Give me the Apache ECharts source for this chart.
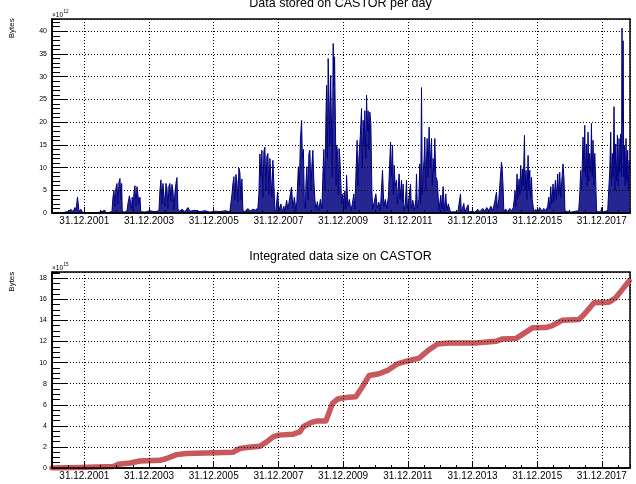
<!DOCTYPE html>
<html>
<head>
<meta charset="utf-8">
<script src="https://cdn.jsdelivr.net/npm/echarts@6/dist/echarts.min.js"></script>
<style>
html, body { margin: 0; padding: 0; background: #fff; }
#chart { width: 636px; height: 484px; }
</style>
</head>
<body>
<div id="chart"></div>
<script>
// x = decimal year, y = bytes per day in units of 10^12
const perDay = [
  [2001.000,0],[2001.247,0],[2001.494,0.3],[2001.587,0.8],[2001.649,0.3],[2001.711,1.2],[2001.742,0.5],[2001.788,3.5],[2001.834,0.4],[2001.896,0.8],[2001.958,0],[2002.329,0],[2002.483,0.2],[2002.638,0.6],[2002.669,0],[2002.854,0.3],
  [2002.885,3.5],[2002.916,5.0],[2002.947,1.5],[2002.978,5.5],[2003.009,6.5],[2003.040,2.0],[2003.070,6.8],[2003.101,7.6],[2003.132,3.0],[2003.154,6.5],[2003.172,0.3],[2003.256,0.2],[2003.318,0.5],
  [2003.358,2.5],[2003.395,3.8],[2003.426,4.0],[2003.457,1.0],[2003.481,3.5],[2003.503,0.5],[2003.534,4.5],[2003.565,6.0],[2003.596,1.5],[2003.627,5.8],[2003.658,6.0],[2003.689,2.0],[2003.719,3.5],[2003.744,0.3],[2003.874,0.2],[2004.028,0.5],[2004.183,0.3],
  [2004.307,0.5],[2004.338,5.0],[2004.368,7.3],[2004.399,2.0],[2004.430,6.5],[2004.461,6.8],[2004.492,1.5],[2004.523,6.5],[2004.554,5.5],[2004.585,1.0],[2004.616,6.0],[2004.646,6.5],[2004.677,2.5],[2004.708,6.3],[2004.739,5.0],[2004.770,0.8],[2004.801,4.5],[2004.832,6.5],[2004.863,7.8],[2004.894,1.0],[2004.925,0.3],
  [2005.017,0.8],[2005.110,0.3],[2005.203,1.2],[2005.264,0.4],[2005.419,0.6],[2005.574,0.3],[2005.728,0.5],[2005.883,0.2],[2006.037,0.4],[2006.192,0.3],[2006.346,0.5],[2006.501,0.3],
  [2006.562,4.0],[2006.593,6.4],[2006.624,8.0],[2006.655,3.0],[2006.686,8.5],[2006.717,7.0],[2006.748,2.5],[2006.779,9.9],[2006.810,8.8],[2006.840,3.0],[2006.871,7.5],[2006.902,0.5],[2006.964,0.3],[2007.057,1.0],[2007.119,0.4],[2007.211,0.8],[2007.304,0.6],[2007.366,1.2],
  [2007.397,4.2],[2007.428,13.0],[2007.459,8.0],[2007.489,13.8],[2007.520,3.5],[2007.551,13.5],[2007.582,14.5],[2007.613,5.0],[2007.644,12.5],[2007.675,13.1],[2007.706,4.0],[2007.737,12.0],[2007.768,11.8],[2007.798,3.5],[2007.829,11.6],[2007.860,11.2],[2007.891,0.8],[2007.922,0.3],[2007.975,4.6],
  [2008.015,0.5],[2008.077,2.0],[2008.123,0.3],[2008.169,1.5],[2008.200,0.2],[2008.253,2.8],[2008.293,0.8],[2008.355,3.5],[2008.407,5.7],[2008.447,1.0],[2008.494,3.5],[2008.540,0.5],[2008.571,2.5],
  [2008.617,10.2],[2008.648,6.0],[2008.679,16.0],[2008.716,20.4],[2008.741,12.0],[2008.772,14.0],[2008.803,2.0],[2008.834,1.0],
  [2008.849,6.0],[2008.880,10.2],[2008.911,3.0],[2008.942,13.0],[2008.973,13.8],[2009.004,5.0],[2009.035,10.5],[2009.065,13.8],[2009.096,7.0],[2009.127,3.0],[2009.158,0.8],[2009.204,2.5],[2009.251,0.5],[2009.297,3.0],[2009.344,1.0],
  [2009.374,8.0],[2009.405,14.0],[2009.436,5.0],[2009.467,20.0],[2009.489,28.1],[2009.514,12.0],[2009.538,34.0],[2009.566,25.0],[2009.591,15.0],[2009.616,30.3],[2009.640,20.0],[2009.665,8.0],[2009.693,37.3],[2009.717,28.0],[2009.736,34.4],[2009.761,20.4],[2009.785,6.0],[2009.798,14.9],[2009.829,13.5],[2009.853,4.0],[2009.875,14.2],[2009.900,12.0],[2009.931,11.6],[2009.955,2.0],
  [2009.992,4.2],[2010.023,1.0],[2010.054,4.9],[2010.085,0.8],[2010.107,8.3],[2010.147,1.5],[2010.193,3.0],[2010.240,0.5],[2010.286,2.0],[2010.332,4.2],[2010.363,0.8],
  [2010.394,8.0],[2010.434,16.0],[2010.456,6.0],[2010.496,13.1],[2010.533,17.0],[2010.570,23.0],[2010.595,10.0],[2010.620,20.4],[2010.648,15.0],[2010.672,22.5],[2010.703,12.0],[2010.725,25.9],[2010.750,18.0],[2010.774,22.5],[2010.802,14.0],[2010.827,22.2],[2010.858,19.7],[2010.889,5.0],[2010.913,0.8],
  [2010.950,2.0],[2011.012,4.2],[2011.059,1.0],[2011.105,2.4],[2011.151,0.5],[2011.219,9.4],[2011.259,1.5],[2011.306,3.0],[2011.352,1.0],[2011.399,3.5],
  [2011.429,9.0],[2011.467,15.6],[2011.491,8.0],[2011.528,14.9],[2011.553,4.0],[2011.578,10.5],[2011.609,6.0],[2011.652,7.2],[2011.677,2.0],[2011.732,8.6],[2011.763,3.0],[2011.806,7.2],[2011.831,2.5],[2011.856,6.4],[2011.884,0.5],
  [2011.924,2.0],[2011.961,7.2],[2011.986,1.0],[2012.032,3.0],[2012.085,6.4],[2012.109,1.0],[2012.156,2.8],[2012.202,0.5],[2012.248,3.0],[2012.270,8.6],[2012.295,1.0],[2012.341,3.0],[2012.372,10.8],[2012.397,2.0],[2012.424,27.6],[2012.449,4.0],[2012.474,8.6],
  [2012.505,12.0],[2012.526,16.7],[2012.557,5.0],[2012.598,16.4],[2012.628,8.0],[2012.659,18.9],[2012.690,10.0],[2012.734,16.4],[2012.758,6.0],[2012.783,12.0],[2012.811,9.0],[2012.835,16.4],[2012.866,8.0],[2012.907,7.2],[2012.937,3.9],[2012.959,0.5],
  [2013.021,3.9],[2013.052,0.8],[2013.092,5.8],[2013.129,0.5],[2013.175,4.2],[2013.206,0.5],[2013.253,2.0],[2013.299,0.6],[2013.361,0.2],[2013.454,0.3],[2013.546,0.1],[2013.630,4.2],[2013.654,0.2],[2013.732,2.1],[2013.763,0.2],[2013.865,1.8],[2013.886,0.2],[2013.979,0.4],
  [2014.072,0.2],[2014.164,0.8],[2014.226,0.3],[2014.319,1.0],[2014.381,0.4],[2014.442,1.2],[2014.504,0.5],[2014.566,1.5],[2014.628,0.6],[2014.690,2.5],[2014.742,4.6],[2014.767,1.0],[2014.813,3.0],[2014.844,6.0],[2014.897,11.2],[2014.915,10.2],[2014.946,5.8],[2014.968,0.5],
  [2015.030,0.8],[2015.091,0.3],[2015.153,1.0],[2015.215,0.5],[2015.261,1.2],
  [2015.292,3.0],[2015.317,4.9],[2015.339,1.5],[2015.379,8.6],[2015.400,3.0],[2015.441,7.5],[2015.462,4.0],[2015.493,10.5],[2015.524,5.0],[2015.546,9.7],[2015.570,6.0],[2015.608,17.1],[2015.626,5.0],[2015.657,9.4],[2015.685,3.0],[2015.719,12.7],[2015.740,5.0],[2015.771,9.4],[2015.796,3.5],[2015.824,7.9],[2015.848,3.0],[2015.873,2.8],[2015.895,0.3],
  [2015.957,0.8],[2016.018,0.3],[2016.080,1.2],[2016.142,0.4],[2016.204,1.0],[2016.266,0.5],[2016.327,1.5],
  [2016.358,3.5],[2016.389,1.0],[2016.420,5.8],[2016.451,2.0],[2016.491,6.4],[2016.513,2.5],[2016.565,7.2],[2016.590,3.0],[2016.636,8.6],[2016.661,4.0],[2016.698,9.0],[2016.729,3.5],[2016.760,7.0],[2016.800,10.8],[2016.831,7.2],[2016.859,0.5],
  [2016.945,0.3],[2017.069,0.2],[2017.193,0.4],[2017.285,0.5],
  [2017.316,4.0],[2017.347,9.4],[2017.372,5.0],[2017.418,16.7],[2017.446,9.0],[2017.471,19.3],[2017.495,8.0],[2017.523,15.2],[2017.548,6.0],[2017.573,17.8],[2017.600,7.0],[2017.625,13.1],[2017.656,9.0],[2017.678,19.7],[2017.703,8.0],[2017.727,16.0],[2017.755,6.0],[2017.780,13.1],[2017.811,7.2],[2017.835,0.5],
  [2017.903,0.3],[2017.965,0.2],[2017.996,1.2],[2018.027,0.2],[2018.120,0.4],[2018.182,0.6],
  [2018.212,5.0],[2018.243,9.0],[2018.274,17.8],[2018.299,6.0],[2018.327,13.1],[2018.352,8.0],[2018.376,23.4],[2018.404,5.0],[2018.429,15.2],[2018.453,7.0],[2018.481,17.1],[2018.506,6.0],[2018.531,16.4],[2018.552,9.0],[2018.583,17.4],[2018.608,8.0],
  [2018.623,40.7],[2018.642,20.0],[2018.657,37.9],[2018.676,8.0],[2018.698,14.9],[2018.722,6.0],[2018.747,16.4],[2018.769,7.0],[2018.799,13.8],[2018.821,5.0],[2018.840,11.6],[2018.861,9.4]
];

// x = decimal year, y = integrated size in units of 10^15 bytes
const integrated = [
  [2001.000,0],[2001.865,0.05],[2002.894,0.15],[2003.049,0.35],[2003.410,0.48],[2003.719,0.67],[2004.337,0.73],[2004.544,0.9],[2004.853,1.27],[2005.163,1.37],
  [2006.603,1.5],[2006.810,1.85],[2007.017,1.94],[2007.428,2.07],[2007.635,2.48],[2007.839,2.96],[2007.993,3.12],[2008.457,3.21],[2008.664,3.43],[2008.766,3.91],
  [2009.025,4.33],[2009.180,4.45],[2009.467,4.45],[2009.674,6.14],[2009.829,6.55],[2010.085,6.68],[2010.394,6.77],[2010.601,7.73],[2010.805,8.78],[2011.114,8.94],
  [2011.374,9.26],[2011.683,9.89],[2011.939,10.11],[2012.350,10.43],[2012.659,11.23],[2012.919,11.77],[2013.277,11.86],[2014.102,11.86],[2014.720,12.02],[2014.928,12.25],
  [2015.339,12.28],[2015.855,13.3],[2016.266,13.33],[2016.473,13.52],[2016.782,14.03],[2017.295,14.1],[2017.449,14.57],[2017.758,15.68],[2018.222,15.74],[2018.429,16.16],
  [2018.636,16.95],[2018.840,17.75]
];

// tick positions (start of year) and the labels shown for them
const yearTicks = [2002, 2004, 2006, 2008, 2010, 2012, 2014, 2016, 2018];
const yearTickLabels = ['31.12.2001', '31.12.2003', '31.12.2005', '31.12.2007', '31.12.2009',
                        '31.12.2011', '31.12.2013', '31.12.2015', '31.12.2017'];

const FONT = '"Liberation Sans", Arial, Helvetica, sans-serif';
const X_MIN = 2001.0, X_MAX = 2018.87;
const dotted = { color: '#000', width: 1, type: [1, 2] };

// major axis (labels, grid) + a bare axis only for the half-year minor ticks
const makeXAxes = (grid) => [
    {
        type: 'value', gridIndex: grid, position: 'bottom',
        min: X_MIN, max: X_MAX, splitNumber: 9, z: 5,
        axisLine: { show: true, lineStyle: { color: '#000', width: 1.5 } },
        axisTick: { show: true, inside: true, length: 6, lineStyle: { color: '#000' } },
        axisLabel: {
            margin: 3, fontSize: 10, color: '#000', fontFamily: FONT,
            showMinLabel: false, showMaxLabel: false,
            formatter: (v) => {
                const i = yearTicks.indexOf(Math.round(v * 1000) / 1000);
                return i < 0 ? '' : yearTickLabels[i];
            }
        },
        splitLine: { show: true, lineStyle: dotted }
    },
    {
        type: 'value', gridIndex: grid, position: 'bottom',
        min: X_MIN, max: X_MAX, interval: 0.5, z: 5,
        axisLine: { show: false },
        axisTick: { show: true, inside: true, length: 3, lineStyle: { color: '#000' } },
        axisLabel: { show: false },
        splitLine: { show: false }
    }
];

const makeYAxes = (grid, max, major, minor) => [
    {
        type: 'value', gridIndex: grid, position: 'left',
        min: 0, max: max, interval: major, z: 5,
        axisLine: { show: true, lineStyle: { color: '#000', width: 1.5 } },
        axisTick: { show: true, inside: true, length: 16, lineStyle: { color: '#000' } },
        axisLabel: { margin: 5, fontSize: 7, color: '#000', fontFamily: FONT, showMaxLabel: false },
        splitLine: { show: true, lineStyle: dotted }
    },
    {
        type: 'value', gridIndex: grid, position: 'left',
        min: 0, max: max, interval: minor, z: 5,
        axisLine: { show: false },
        axisTick: { show: true, inside: true, length: 8, lineStyle: { color: '#000' } },
        axisLabel: { show: false },
        splitLine: { show: false }
    }
];

const txt = (x, y, text, size, extra) => Object.assign({
    type: 'text', x: x, y: y, z: 100,
    style: {
        text: text, font: size + 'px ' + FONT, fill: '#000',
        align: 'center', verticalAlign: 'middle',
        textAlign: 'center', textVerticalAlign: 'middle'
    }
}, extra || {});

const leftTxt = (x, y, text, size) => ({
    type: 'text', x: x, y: y, z: 100,
    style: {
        text: text, font: size + 'px ' + FONT, fill: '#000',
        align: 'left', verticalAlign: 'middle',
        textAlign: 'left', textVerticalAlign: 'middle'
    }
});

const option = {
    animation: false,
    backgroundColor: '#fff',
    grid: [
        { left: 52, right: 6, top: 19, bottom: 271, show: true, borderColor: '#000', borderWidth: 1.5, backgroundColor: 'transparent' },
        { left: 52, right: 6, top: 272, bottom: 16, show: true, borderColor: '#000', borderWidth: 1.5, backgroundColor: 'transparent' }
    ],
    xAxis: [...makeXAxes(0), ...makeXAxes(1)],
    yAxis: [...makeYAxes(0, 42.7, 5, 1), ...makeYAxes(1, 18.6, 2, 0.5)],
    series: [
        {
            name: 'Data stored on CASTOR per day',
            type: 'line', xAxisIndex: 0, yAxisIndex: 0,
            data: perDay, symbol: 'none', showSymbol: false,
            lineStyle: { color: '#000080', width: 1 },
            areaStyle: { color: '#000080', opacity: 0.85 }
        },
        {
            name: 'Integrated data size on CASTOR',
            type: 'line', xAxisIndex: 2, yAxisIndex: 2,
            data: integrated, symbol: 'none', showSymbol: false,
            lineStyle: { color: '#c8585c', width: 5.5, cap: 'round', join: 'round' }
        }
    ],
    graphic: [
        txt(340.5, 3.5, 'Data stored on CASTOR per day', 12.5),
        txt(340.5, 256.5, 'Integrated data size on CASTOR', 12.5),
        txt(11.3, 28.3, 'Bytes', 8, { rotation: Math.PI / 2 }),
        txt(11.3, 281.7, 'Bytes', 8, { rotation: Math.PI / 2 }),
        leftTxt(52, 15, '×10', 6.5),
        leftTxt(63.5, 11.5, '12', 4.5),
        leftTxt(52, 268.3, '×10', 6.5),
        leftTxt(63.5, 264.5, '15', 4.5)
    ]
};

const chart = echarts.init(document.getElementById('chart'));
chart.setOption(option);
</script>
</body>
</html>
